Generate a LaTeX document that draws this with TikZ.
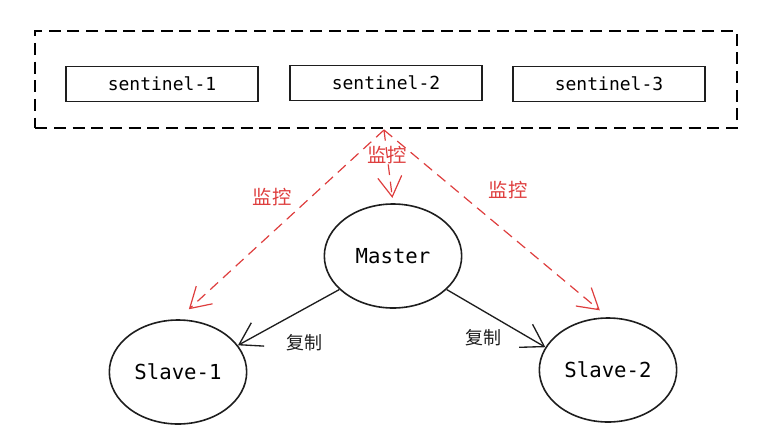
\documentclass[tikz,border=0pt]{standalone}
\usepackage{fontspec}
\setmonofont{DejaVu Sans Mono}
\newfontfamily\cjk{Noto Sans CJK SC}
\usetikzlibrary{arrows.meta,positioning,shapes.geometric}
\definecolor{WatchRed}{RGB}{222,62,62}
\definecolor{InkGray}{RGB}{30,30,30}

\tikzset{
    sentinelbox/.style={draw=InkGray, line width=1.2pt, minimum width=144pt, minimum height=26pt, font=\ttfamily\fontsize{13.5}{15}\selectfont, inner sep=2pt},
    nodering/.style={draw=InkGray, line width=1.2pt, ellipse, minimum width=103pt, minimum height=78pt, font=\ttfamily\fontsize{15.5}{17}\selectfont},
    watch/.style={draw=WatchRed, line width=0.9pt, dash pattern=on 8pt off 5pt, -{Straight Barb[length=15pt, width=18pt]}},
    copyline/.style={draw=InkGray, line width=1pt, -{Straight Barb[length=16pt, width=20pt]}},
    watchlabel/.style={text=WatchRed, font=\cjk\fontsize{14.5}{16}\selectfont},
    copylabel/.style={text=InkGray, font=\cjk\fontsize{13.5}{15}\selectfont}
}

\begin{document}
\begin{tikzpicture}[x=0.75pt, y=-0.75pt]
\useasboundingbox (0,0) rectangle (771,440);

% sentinel group
\node[draw=black, line width=1.6pt, dash pattern=on 9pt off 5pt, minimum width=526pt, minimum height=73pt] (group) at (386,79.5) {};
\node[sentinelbox] (s1) at (162,84) {sentinel-1};
\node[sentinelbox] (s2) at (386,83) {sentinel-2};
\node[sentinelbox] (s3) at (609,84) {sentinel-3};
\coordinate (watchtop) at (384,130);

% redis nodes
\node[nodering] (master) at (393,256) {Master};
\node[nodering] (slave1) at (178,372) {Slave-1};
\node[nodering] (slave2) at (608,370) {Slave-2};

% monitoring
\draw[watch, shorten >=11pt] (watchtop) -- (slave1.north);
\draw[watch, shorten >=4pt] (watchtop) -- (master.north);
\draw[watch, shorten >=8pt] (watchtop) -- (slave2.north);
\node[watchlabel] (w1) at (272,197) {监控};
\node[watchlabel] (w2) at (387,155) {监控};
\node[watchlabel] (w3) at (508,190) {监控};

% replication
\draw[copyline] (master.212) -- (slave1.24);
\draw[copyline] (master.-32) -- (slave2.160);
\node[copylabel] (c1) at (304,343) {复制};
\node[copylabel] (c2) at (483,338) {复制};
\end{tikzpicture}
\end{document}
